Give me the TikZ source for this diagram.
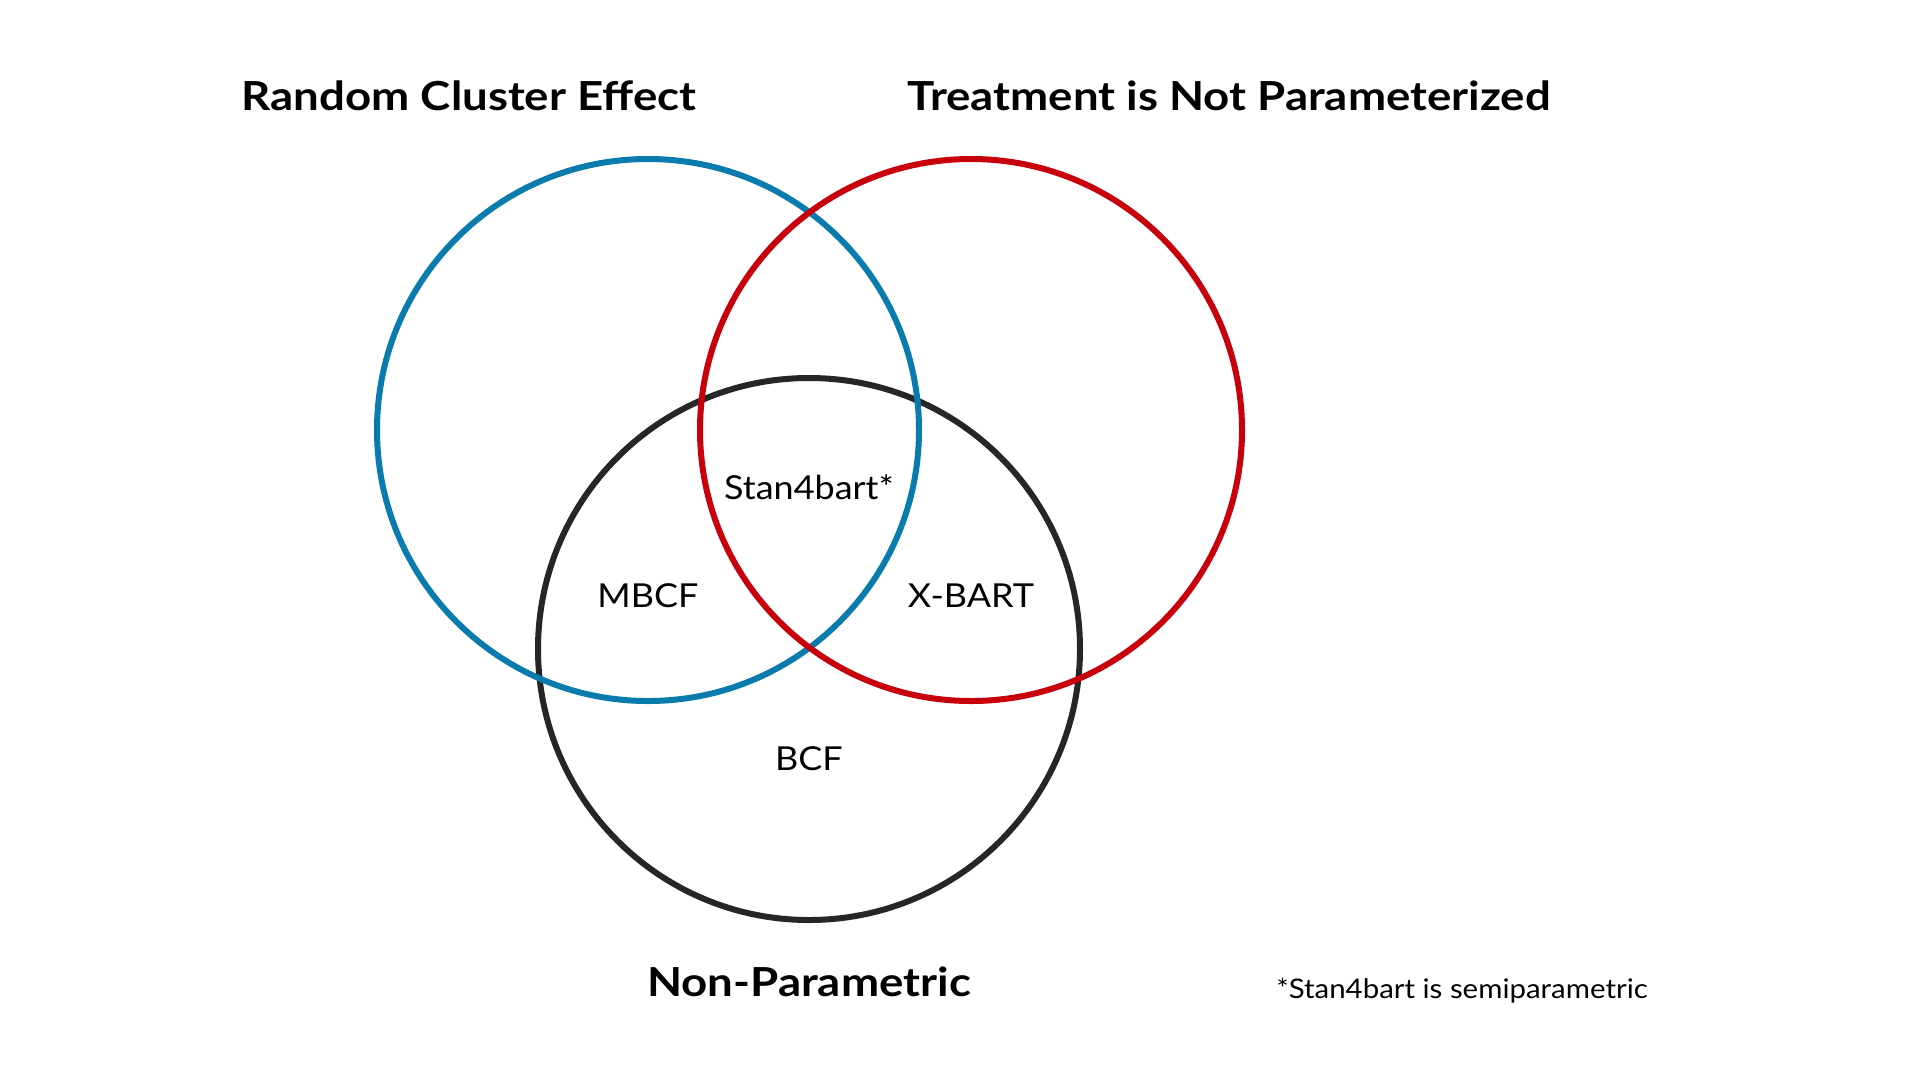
\documentclass[tikz,border=0pt]{standalone}
\usepackage{fontspec}
\setmainfont{Lato}
\newfontfamily\titlefont[FakeStretch=1.14]{Lato}
\newfontfamily\labfont[FakeStretch=1.09]{Lato}
\definecolor{vblue}{HTML}{0A7BAD}
\definecolor{vred}{HTML}{C8000B}
\definecolor{vblack}{HTML}{262626}
\begin{document}
\begin{tikzpicture}[x=1pt,y=-1pt,
  ring/.style={line width=6pt},
  title/.style={font=\titlefont\fontsize{40}{48}\selectfont\bfseries, anchor=center},
  inlab/.style={font=\labfont\fontsize{33}{40}\selectfont, anchor=center},
  note/.style={font=\labfont\fontsize{27}{32}\selectfont, anchor=center}]
\useasboundingbox[fill=white] (0,0) rectangle (1920,1080);
\coordinate (cb) at (648,430);
\coordinate (cr) at (971,430);
\coordinate (ck) at (809,649);
\draw[ring, vblack] (ck) circle[radius=271];
\draw[ring, vblue] (cb) circle[radius=271];
\draw[ring, vred] (cr) circle[radius=271];
\node[title] (t1) at (469,96) {Random Cluster Effect};
\node[title] (t2) at (1229,96) {Treatment is Not Parameterized};
\node[title] (t3) at (809,982) {Non-Parametric};
\node[inlab] (s4) at (809,487) {Stan4bart*};
\node[inlab] (mb) at (648,596) {MBCF};
\node[inlab] (xb) at (971,596) {X-BART};
\node[inlab] (bc) at (809,759) {BCF};
\node[note] (fn) at (1462,991) {*Stan4bart is semiparametric};
\end{tikzpicture}
\end{document}
